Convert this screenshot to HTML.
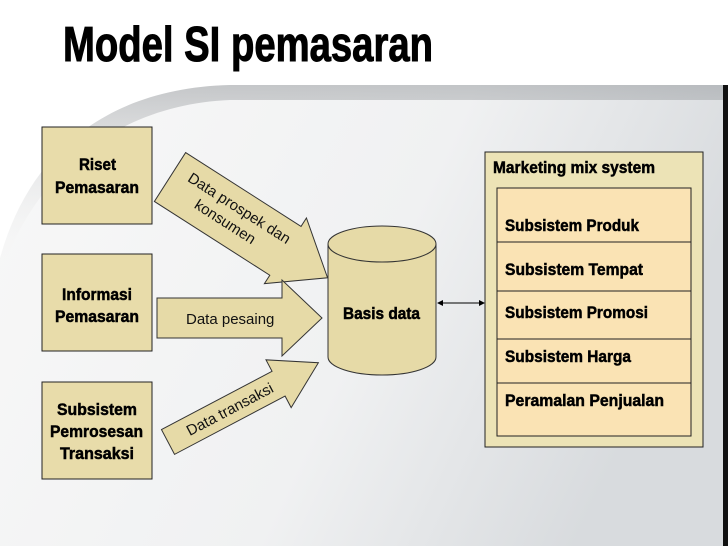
<!DOCTYPE html>
<html><head><meta charset="utf-8"><style>
html,body{margin:0;padding:0;background:#fff;}
svg{display:block;}
text{font-family:"Liberation Sans",sans-serif;}
.b{font-weight:bold;font-size:17px;fill:#000;stroke:#000;stroke-width:0.5;}
.n{font-size:15px;fill:#111;}
</style></head><body>
<svg width="728" height="546" viewBox="0 0 728 546" xmlns="http://www.w3.org/2000/svg">
<defs>
<linearGradient id="bg" x1="0" y1="0" x2="1" y2="0.3">
<stop offset="0" stop-color="#f8f8f8"/><stop offset="0.6" stop-color="#f0f1f2"/><stop offset="1" stop-color="#d8dbde"/>
</linearGradient>
<linearGradient id="top" x1="0" y1="0" x2="0" y2="1">
<stop offset="0" stop-color="#8a8e92" stop-opacity="0.45"/><stop offset="1" stop-color="#fff" stop-opacity="0"/>
</linearGradient>
</defs>
<path d="M0,258 C30,150 110,88 230,85 L728,85 L728,546 L0,546 Z" fill="url(#bg)"/>
<path d="M0,258 C30,150 110,88 230,85 L728,85 L728,100 L230,100 C130,104 40,160 0,275 Z" fill="url(#top)"/>
<rect x="723" y="85" width="5" height="461" fill="#111"/>

<text x="63" y="61" font-size="49" font-weight="bold" stroke="#000" stroke-width="1" textLength="370" lengthAdjust="spacingAndGlyphs">Model SI pemasaran</text>

<g fill="#e8dcaa" stroke="#222" stroke-width="1">
<rect x="42" y="127" width="110" height="97"/>
<rect x="42" y="254" width="110" height="97"/>
<rect x="42" y="382" width="110" height="97"/>
</g>
<text class="b" x="79" y="170" textLength="37" lengthAdjust="spacingAndGlyphs">Riset</text>
<text class="b" x="55" y="193" textLength="84" lengthAdjust="spacingAndGlyphs">Pemasaran</text>
<text class="b" x="62" y="300" textLength="70" lengthAdjust="spacingAndGlyphs">Informasi</text>
<text class="b" x="55" y="322" textLength="84" lengthAdjust="spacingAndGlyphs">Pemasaran</text>
<text class="b" x="57" y="415" textLength="80" lengthAdjust="spacingAndGlyphs">Subsistem</text>
<text class="b" x="50" y="437" textLength="93" lengthAdjust="spacingAndGlyphs">Pemrosesan</text>
<text class="b" x="60" y="459" textLength="74" lengthAdjust="spacingAndGlyphs">Transaksi</text>

<g transform="translate(170,177) rotate(32.6)">
<polygon points="0,-29 137,-29 137,-39 187,0 137,39 137,29 0,29" fill="#e6daa7" stroke="#333" stroke-width="1"/>
<text class="n" x="16" y="-6">Data prospek dan</text>
<text class="n" x="36" y="13">konsumen</text>
</g>
<polygon points="157,298 282,298 282,280 322,318 282,356 282,338 157,338" fill="#e6daa7" stroke="#333" stroke-width="1"/>
<text class="n" x="186" y="324">Data pesaing</text>
<g transform="translate(168,442) rotate(-27.8)">
<polygon points="0,-14 125,-14 125,-27 170,0 125,27 125,14 0,14" fill="#e6daa7" stroke="#333" stroke-width="1"/>
<text class="n" x="22" y="5">Data transaksi</text>
</g>

<path d="M328,244 L328,357 A54,18 0 0 0 436,357 L436,244 A54,18 0 0 0 328,244 Z" fill="#e6daa7" stroke="#333" stroke-width="1"/>
<path d="M328,244 A54,18 0 0 0 436,244" fill="none" stroke="#333" stroke-width="1"/>
<text class="b" x="343" y="319" textLength="77" lengthAdjust="spacingAndGlyphs">Basis data</text>

<line x1="441" y1="303" x2="481" y2="303" stroke="#000" stroke-width="1"/>
<polygon points="437,303 443,300 443,306" fill="#000"/>
<polygon points="485,303 479,300 479,306" fill="#000"/>

<rect x="485" y="152" width="218" height="295" fill="#ece3b6" stroke="#222" stroke-width="1"/>
<text class="b" x="493" y="173" textLength="162" lengthAdjust="spacingAndGlyphs">Marketing mix system</text>
<rect x="497" y="188" width="194" height="248" fill="#fae3b4" stroke="#222" stroke-width="1"/>
<g stroke="#222" stroke-width="1">
<line x1="497" y1="242" x2="691" y2="242"/>
<line x1="497" y1="291" x2="691" y2="291"/>
<line x1="497" y1="339" x2="691" y2="339"/>
<line x1="497" y1="383" x2="691" y2="383"/>
</g>
<text class="b" x="505" y="231" textLength="134" lengthAdjust="spacingAndGlyphs">Subsistem Produk</text>
<text class="b" x="505" y="275" textLength="138" lengthAdjust="spacingAndGlyphs">Subsistem Tempat</text>
<text class="b" x="505" y="318" textLength="143" lengthAdjust="spacingAndGlyphs">Subsistem Promosi</text>
<text class="b" x="505" y="362" textLength="126" lengthAdjust="spacingAndGlyphs">Subsistem Harga</text>
<text class="b" x="505" y="406" textLength="159" lengthAdjust="spacingAndGlyphs">Peramalan Penjualan</text>
</svg>
</body></html>
